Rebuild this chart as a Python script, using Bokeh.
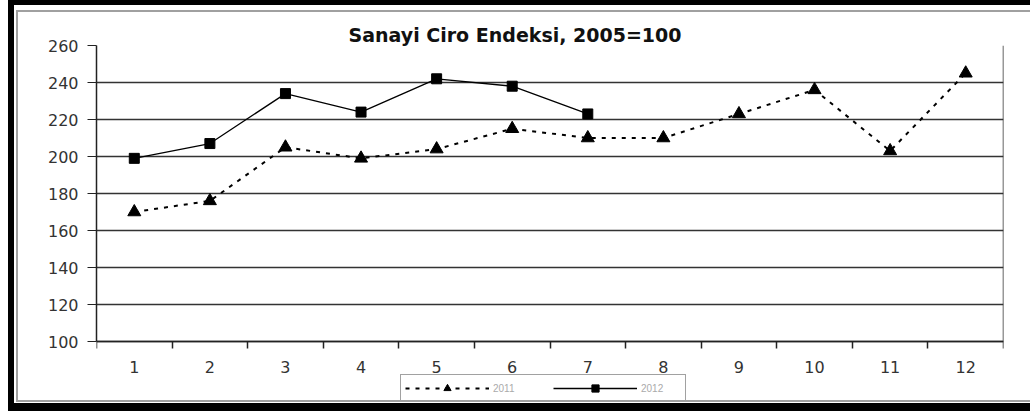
from bokeh.plotting import figure
from bokeh.models import FixedTicker, Legend, InlineStyleSheet, LinearAxis
from bokeh.embed import file_html
from bokeh.resources import INLINE

months = [1, 2, 3, 4, 5, 6, 7, 8, 9, 10, 11, 12]
s2011 = [170, 176, 205, 199, 204, 215, 210, 210, 223, 236, 203, 245]
months_2012 = [1, 2, 3, 4, 5, 6, 7]
s2012 = [199, 207, 234, 224, 242, 238, 223]
y_ticks = [100, 120, 140, 160, 180, 200, 220, 240, 260]
x_boundaries = [0.5 + i for i in range(13)]
title_text = "Sanayi Ciro Endeksi, 2005=100"

FONT = "DejaVu Sans"
Y_MIN, Y_MAX = 100, 260
# extra room under the axis (inside the frame) holds tick labels and legend
Y_LOW = Y_MIN - 64 * (Y_MAX - Y_MIN) / 296

frame_css = InlineStyleSheet(css="""
:host::after {
  content: ''; position: absolute; left: 8px; top: 0; width: 1030px; height: 411px;
  border-top: 5px solid #000; border-left: 6px solid #000; border-bottom: 8px solid #000;
  pointer-events: none; box-sizing: border-box; z-index: 10;
}
:host::before {
  content: ''; position: absolute; left: 16px; top: 10px; width: 1030px; height: 392px;
  border: 2px solid #a0a0a0; border-right: none;
  pointer-events: none; box-sizing: border-box; z-index: 10;
}
""")

p = figure(frame_width=907, frame_height=360, output_backend="svg", toolbar_location=None,
           x_range=(0.5, 12.5), y_range=(Y_LOW, Y_MAX),
           min_border_left=96, min_border_right=27, min_border_top=45, min_border_bottom=6,
           background_fill_color="white", border_fill_color="white",
           stylesheets=[frame_css])

p.title.text = title_text
p.title.text_font = FONT
p.title.text_font_size = "19px"
p.title.text_font_style = "bold"
p.title.text_color = "#111111"
p.title.align = "left"
p.title.offset = 252
p.title.standoff = 0

# y axis (left)
p.yaxis.ticker = FixedTicker(ticks=y_ticks)
p.yaxis.bounds = (Y_MIN, Y_MAX)
p.yaxis.axis_label = None
p.yaxis.major_tick_out = 9
p.yaxis.major_tick_in = 0
p.yaxis.minor_tick_out = 0
p.yaxis.minor_tick_in = 0
p.yaxis.axis_line_color = "#222222"
p.yaxis.axis_line_width = 1.5
p.yaxis.major_tick_line_color = "#222222"
p.yaxis.major_label_text_font = FONT
p.yaxis.major_label_text_font_size = "16px"
p.yaxis.major_label_text_color = "#333333"
p.yaxis.major_label_standoff = 9

# right border of the plot area
right_axis = LinearAxis(ticker=FixedTicker(ticks=[]), bounds=(Y_MIN, Y_MAX),
                        fixed_location=12.5, axis_line_color="#333333", axis_line_width=1.5,
                        major_tick_out=0, major_tick_in=0, minor_tick_out=0, minor_tick_in=0)
p.add_layout(right_axis, "right")

# x axis at y=100: labels at months, ticks at boundaries
p.xaxis.fixed_location = Y_MIN
p.xaxis.ticker = FixedTicker(ticks=months, minor_ticks=x_boundaries)
p.xaxis.axis_label = None
p.xaxis.major_tick_out = 0
p.xaxis.major_tick_in = 0
p.xaxis.minor_tick_out = 7
p.xaxis.minor_tick_in = 0
p.xaxis.minor_tick_line_color = "#222222"
p.xaxis.minor_tick_line_width = 1.5
p.xaxis.axis_line_color = "#222222"
p.xaxis.axis_line_width = 1.5
p.xaxis.major_label_text_font = FONT
p.xaxis.major_label_text_font_size = "16px"
p.xaxis.major_label_text_color = "#333333"
p.xaxis.major_label_standoff = 12

p.xgrid.grid_line_color = None
p.ygrid.ticker = FixedTicker(ticks=y_ticks)
p.ygrid.grid_line_color = "#333333"
p.ygrid.grid_line_width = 1.5

p.outline_line_color = None

# series
l1 = p.line(months, s2011, line_color="black", line_width=2, line_dash="4 6")
m1 = p.scatter(months, s2011, marker="triangle", size=13, fill_color="black", line_color="black")
l2 = p.line(months_2012, s2012, line_color="black", line_width=1.3)
m2 = p.scatter(months_2012, s2012, marker="square", size=10, fill_color="black", line_color="black")

legend = Legend(items=[("2011", [l1, m1]), ("2012", [l2, m2])],
                orientation="horizontal", location=(304, 3),
                glyph_width=84, glyph_height=18, label_height=18, label_width=40,
                label_standoff=4, spacing=20, padding=4, margin=0,
                label_text_font="Liberation Sans", label_text_font_size="10px",
                label_text_color="#aaaaaa",
                border_line_color="#444444", border_line_width=1.2,
                background_fill_color="white", background_fill_alpha=1)
p.add_layout(legend, "center")

open("out.html", "w").write(file_html(p, INLINE))
